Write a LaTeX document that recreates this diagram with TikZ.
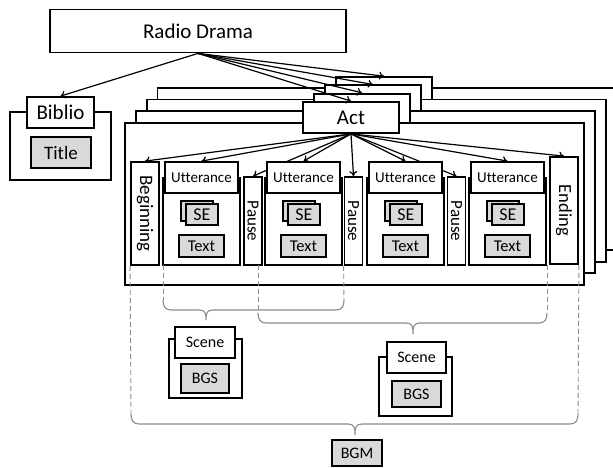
\documentclass[tikz,border=0pt]{standalone}
\usepackage{fontspec}
\setmainfont{Carlito}[Ligatures=NoCommon]
\usetikzlibrary{arrows.meta}

\definecolor{leafgray}{HTML}{D9D9D9}
\definecolor{guidegray}{HTML}{8C8C8C}

\pgfdeclarelayer{back}
\pgfsetlayers{back,main}

\tikzset{box/.style = {draw, line width=1.8pt, fill=white, inner sep=0pt},
         leaf/.style = {box, fill=leafgray},
         link/.style = {-{To[length=5pt,width=8pt]}, line width=1.2pt},
         guide/.style = {draw=guidegray, line width=0.9pt, dash pattern=on 5pt off 3pt},
         brace/.style = {draw=guidegray, line width=1.1pt}}
\newcommand{\fs}[1]{\fontsize{#1}{#1}\selectfont}
% curly brace: left x, right x, level, tip x, tip depth
\newcommand{\curly}[5]{%
  \draw[brace] (#1,#3-10) .. controls (#1,#3-4) and (#1+2,#3) .. (#1+8,#3)
    -- (#4-7,#3) .. controls (#4-1,#3) and (#4,#3+3) .. (#4,#3+#5)
    .. controls (#4,#3+3) and (#4+1,#3) .. (#4+7,#3)
    -- (#2-8,#3) .. controls (#2-2,#3) and (#2,#3-4) .. (#2,#3-10);}

\begin{document}
\begin{tikzpicture}[x=1pt,y=-1pt]
\useasboundingbox (0,0) rectangle (613,468);

\node[box, minimum width=296pt, minimum height=43pt, font=\fs{21}] (rd) at (198,31) {Radio Drama};

% bibliographic part
\draw[box] (10,112) rectangle (111,180);
\node[box, minimum width=67pt, minimum height=31pt, font=\fs{21}] (biblio) at (60.5,112.5) {Biblio};
\node[leaf, minimum width=60pt, minimum height=31pt, font=\fs{19}] (title) at (61,152.5) {Title};

% acts, back to front
\begin{pgfonlayer}{back}
\fill[white] (0,0) rectangle (613,468);
\foreach \k in {3,2,1}{
  \draw[box] (125+10.8*\k,123-11.7*\k) rectangle +(459,162);
  \node[box, minimum width=96pt, minimum height=31pt] (act\k) at (351+11*\k,117.5-8.3*\k) {};
}
\draw[box] (125,123) rectangle +(459,162);
\node[box, minimum width=96pt, minimum height=31pt, font=\fs{21}] (act0) at (351,117.5) {Act};
\end{pgfonlayer}

% parts of the front act
\node[box, minimum width=28pt, minimum height=103pt, font=\fs{19}] (beg) at (145,213.5) {\rotatebox{-90}{Beginning}};
\foreach \i/\xl in {1/163,2/265,3/367,4/469}{
  \draw[box] (\xl,178) rectangle +(77,87);
  \node[box, minimum width=73pt, minimum height=31pt, font=\fs{15}] (utt\i) at (\xl+38.5,177.5) {Utterance};
  \draw[leaf] (\xl+18,201) rectangle +(32,20);
  \node[leaf, minimum width=32pt, minimum height=21pt, font=\fs{18}] (se\i) at (\xl+39,214.5) {SE};
  \node[leaf, minimum width=45pt, minimum height=22pt, font=\fs{16.5}] (txt\i) at (\xl+38.5,246) {Text};
}
\foreach \i/\xc in {1/253,2/353.5,3/456.5}
  \node[box, minimum width=18pt, minimum height=88pt, font=\fs{17}] (pause\i) at (\xc,221) {\rotatebox{-90}{Pause}};
\node[box, minimum width=28pt, minimum height=107pt, font=\fs{18.5}] (end) at (564,210.5) {\rotatebox{-90}{Ending}};

\begin{pgfonlayer}{back}
\foreach \c in {beg,utt1,pause1,utt2,pause2,utt3,pause3,utt4,end}
  \draw[link] (act0.south) -- (\c.north);
\end{pgfonlayer}

\draw[link] (rd.south) -- (biblio.north);
\foreach \k in {0,...,3}
  \draw[link] (rd.south) -- (act\k.north);

% spans of scenes and music
\draw[guide] (beg.south west) -- (131,414);
\draw[guide] (163,265) -- (163,300);
\draw[guide] (pause2.south west) -- (344,300);
\draw[guide] (258,265) -- (258,313);
\draw[guide] (547,265) -- (547,313);
\draw[guide] (end.south east) -- (578,414);
\curly{163}{344}{310}{206}{10}
\curly{258}{547}{323}{413}{11}
\curly{131}{578}{424}{355}{11}

\draw[box] (169,339) rectangle (242,398);
\node[box, minimum width=60pt, minimum height=31pt, font=\fs{16}] (scene1) at (205,342.5) {Scene};
\node[leaf, minimum width=48pt, minimum height=29pt, font=\fs{16}] (bgs1) at (205,378.5) {BGS};

\draw[box] (379,357) rectangle (452,416);
\node[box, minimum width=59pt, minimum height=31pt, font=\fs{16}] (scene2) at (416.5,357.5) {Scene};
\node[leaf, minimum width=49pt, minimum height=26pt, font=\fs{16}] (bgs2) at (416.5,394) {BGS};

\node[leaf, minimum width=50pt, minimum height=26pt, font=\fs{16}] (bgm) at (357,453) {BGM};
\end{tikzpicture}
\end{document}
